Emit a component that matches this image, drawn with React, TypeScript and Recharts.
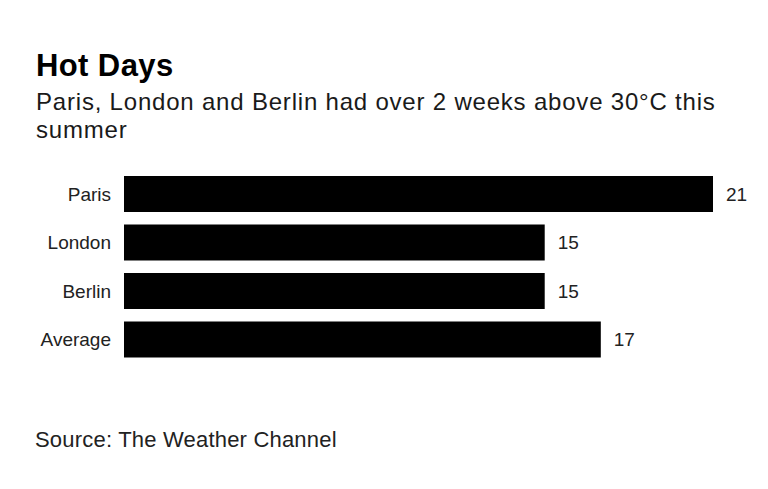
import React from "react";
import { BarChart, Bar, XAxis, YAxis, LabelList } from "recharts";

// Hot days above 30°C, summer
const cities = ["Paris", "London", "Berlin", "Average"];
const hotDays = [21, 15, 15, 17];

const data = cities.map((city, i) => ({ city, days: hotDays[i] }));

const font = "'Liberation Sans', Arial, sans-serif";

export default function App() {
  return (
    <div
      style={{
        position: "absolute",
        left: 0,
        top: 0,
        width: 768,
        height: 489,
        background: "#fff",
        fontFamily: font,
        overflow: "hidden",
      }}
    >
      <div
        style={{
          position: "absolute",
          left: 36,
          top: 50,
          fontSize: 31,
          lineHeight: "31px",
          letterSpacing: 0.4,
          fontWeight: 700,
          color: "#000",
        }}
      >
        Hot Days
      </div>
      <div
        style={{
          position: "absolute",
          left: 36,
          top: 88,
          width: 740,
          fontSize: 24,
          lineHeight: "28px",
          letterSpacing: 0.8,
          color: "#1a1a1a",
        }}
      >
        Paris, London and Berlin had over 2 weeks above 30°C this
        <br />
        summer
      </div>
      <div style={{ position: "absolute", left: 0, top: 0 }}>
        <BarChart
          width={768}
          height={489}
          data={data}
          layout="vertical"
          margin={{ top: 170, right: 55, bottom: 125, left: 0 }}
        >
          <XAxis type="number" domain={[0, 21]} hide />
          <YAxis
            type="category"
            dataKey="city"
            width={124}
            axisLine={false}
            tickLine={false}
            tickSize={0}
            tickMargin={13}
            tick={{ fill: "#222", fontSize: 19, fontFamily: font }}
          />
          <Bar dataKey="days" fill="#000" barSize={36} isAnimationActive={false}>
            <LabelList
              dataKey="days"
              position="right"
              offset={13}
              fill="#222"
              fontSize={19}
              fontFamily={font}
            />
          </Bar>
        </BarChart>
      </div>
      <div
        style={{
          position: "absolute",
          left: 35,
          top: 429,
          fontSize: 22,
          lineHeight: "22px",
          letterSpacing: 0.2,
          color: "#222",
        }}
      >
        Source: The Weather Channel
      </div>
    </div>
  );
}
